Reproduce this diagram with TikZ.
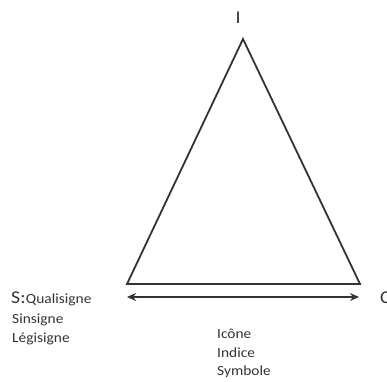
\documentclass[tikz,border=0pt]{standalone}
\usepackage{fontspec}
\setmainfont{Carlito}[FakeStretch=1.1]
\usetikzlibrary{arrows.meta}
\definecolor{ink}{HTML}{333333}
\begin{document}
\begin{tikzpicture}[x=1pt,y=-1pt,
  lbl/.style={anchor=base west,inner sep=0pt,text=ink,font=\fontsize{14}{16}\selectfont},
  side/.style={draw=ink,line width=1.8pt,line join=miter},
  arr/.style={draw=ink,line width=2.2pt,{Stealth[length=9pt,width=8pt]}-{Stealth[length=9pt,width=8pt]}}]
\useasboundingbox (0,0) rectangle (387,381);
\coordinate (A) at (243,39);
\coordinate (L) at (127,284);
\coordinate (R) at (360,284);
\draw[side] (A) -- (L) -- (R) -- cycle;
\coordinate (a1) at (127,297);
\coordinate (a2) at (359,297);
\draw[arr] (a1) -- (a2);
\node[anchor=base,inner sep=0pt,text=ink,font=\fontsize{18}{20}\selectfont] (I) at (238,23) {I};
\node[lbl,font=\fontsize{18}{20}\selectfont] (S) at (11,303) {S:};
\node[lbl,anchor=base west] (q) at (S.base east) {Qualisigne};
\node[lbl] (sin) at (12,323) {Sinsigne};
\node[lbl] (leg) at (12,342) {Légisigne};
\node[lbl,font=\fontsize{18}{20}\selectfont] (C) at (380,303) {C};
\node[lbl] (ic) at (217,338) {Icône};
\node[lbl] (ind) at (217,357) {Indice};
\node[lbl] (sym) at (217,375) {Symbole};
\end{tikzpicture}
\end{document}
